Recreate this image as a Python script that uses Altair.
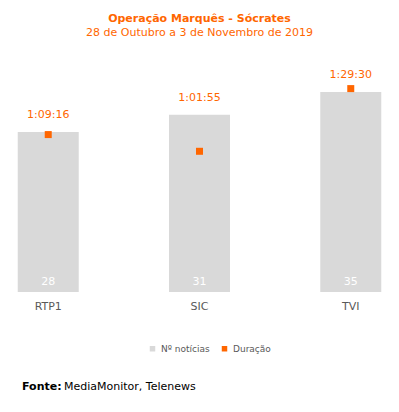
import altair as alt
import pandas as pd

canais = ["RTP1", "SIC", "TVI"]
noticias = [28, 31, 35]
duracao_txt = ["1:09:16", "1:01:55", "1:29:30"]
duracao_seg = [4156, 3715, 5370]
series = ["Nº notícias", "Duração"]

df = pd.DataFrame({
    "canal": canais,
    "noticias": noticias,
    "dur_txt": duracao_txt,
    "dur": duracao_seg,
})
df_b = df.assign(serie=series[0])
df_p = df.assign(serie=series[1])

FONT = "DejaVu Sans"
ORANGE = "#FF6600"
GRAY = "#D9D9D9"

x = alt.X("canal:N", sort=canais, title=None,
          scale=alt.Scale(paddingInner=0.6, paddingOuter=0.066),
          axis=alt.Axis(labelAngle=0, domain=False, ticks=False, labelPadding=8,
                        labelColor="#595959", labelFontSize=11, labelFont=FONT))

cscale = alt.Scale(domain=series, range=[GRAY, ORANGE])
leg = alt.Legend(orient="none", direction="horizontal", legendX=140, legendY=284,
                 symbolType="square", symbolSize=30, labelFontSize=9, title=None,
                 labelColor="#595959", labelFont=FONT, columnPadding=10,
                 symbolStrokeWidth=0)
color = alt.Color("serie:N", scale=cscale, legend=leg)

ysc = alt.Scale(domain=[0, 40.6], nice=False)

bars = alt.Chart(df_b).mark_bar(size=61).encode(
    x=x, y=alt.Y("noticias:Q", scale=ysc, axis=None), color=color)

bar_lbl = alt.Chart(df).transform_calculate(z="0").mark_text(
    color="white", fontSize=11, font=FONT, dy=-10).encode(
    x=x, y=alt.Y("z:Q", scale=ysc, axis=None), text="noticias:Q")

dur_lbl = alt.Chart(df).mark_text(color=ORANGE, fontSize=11, font=FONT, dy=-17).encode(
    x=x, y=alt.Y("noticias:Q", scale=ysc, axis=None), text="dur_txt:N")

bar_layer = alt.layer(bars, bar_lbl, dur_lbl)

pts = alt.Chart(df_p).mark_point(shape="square", filled=True, size=49, opacity=1).encode(
    x=x,
    y=alt.Y("dur:Q", scale=alt.Scale(domain=[0, 6125], nice=False), axis=None),
    color=color)

fonte = pd.DataFrame({"t1": ["Fonte:"], "t2": ["MediaMonitor, Telenews"]})
f1 = alt.Chart(fonte).mark_text(align="left", baseline="middle", fontSize=11, font=FONT,
                                fontWeight="bold", color="#000000").encode(
    x=alt.value(14), y=alt.value(327), text="t1:N")
f2 = alt.Chart(fonte).mark_text(align="left", baseline="middle", fontSize=11, font=FONT,
                                color="#000000").encode(
    x=alt.value(56), y=alt.value(327), text="t2:N")

chart = alt.layer(bar_layer, pts, f1, f2).resolve_scale(y="independent").properties(
    width=383, height=232,
    autosize=alt.AutoSizeParams(type="none"),
    padding={"top": 52, "left": 0, "right": 0, "bottom": 112},
    title=alt.Title(text="Operação Marquês - Sócrates",
                    subtitle="28 de Outubro a 3 de Novembro de 2019",
                    color=ORANGE, subtitleColor=ORANGE, fontSize=11, subtitleFontSize=11,
                    font=FONT, subtitleFont=FONT, fontWeight="bold", subtitleFontWeight="normal",
                    anchor="middle", offset=22, subtitlePadding=3),
).configure_view(stroke=None)

chart.save("out.html", embed_options={"renderer": "svg", "actions": False})
